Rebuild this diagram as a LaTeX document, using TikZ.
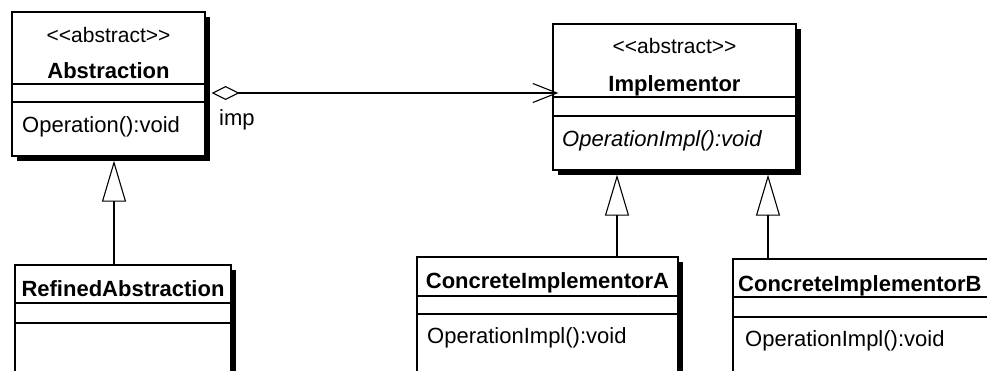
\documentclass[tikz,border=0pt]{standalone}
\usepackage{fontspec}
\setmainfont{Liberation Sans}
\usetikzlibrary{arrows.meta,shadows}

\begin{document}
\begin{tikzpicture}[x=1pt, y=-1pt,
    umlclass/.style={draw, line width=1.3pt, fill=white, inner sep=0pt,
      drop shadow={shadow xshift=4.5pt, shadow yshift=-4.5pt, fill=black, opacity=1}},
    stereo/.style={font=\fontsize{21}{24}\selectfont, inner sep=0pt, anchor=base},
    cname/.style={font=\fontsize{22}{26}\selectfont\bfseries, inner sep=0pt, anchor=base},
    member/.style={font=\fontsize{22}{26}\selectfont, inner sep=0pt, anchor=base west},
    divider/.style={line width=1.3pt},
    conn/.style={line width=1.1pt},
    inherit/.style={conn, -{Triangle[open, length=41pt, width=24pt]}}]
        \clip (0,0) rectangle (987,370);
        \fill[white] (0,0) rectangle (987,370);

        % Classes
        \node[umlclass, minimum width=193pt, minimum height=144pt] (abs) at (108.5,84) {};
        \node[umlclass, minimum width=243pt, minimum height=146pt] (impl) at (674.5,97) {};
        \node[umlclass, minimum width=216pt, minimum height=155pt] (refabs) at (123,342.5) {};
        \node[umlclass, minimum width=261pt, minimum height=163pt] (concA) at (547.5,338.5) {};
        \node[umlclass, minimum width=267pt, minimum height=161pt] (concB) at (866.5,339.5) {};

        % Compartments
        \draw[divider] (abs.west |- 0,84) -- (abs.east |- 0,84);
        \draw[divider] (abs.west |- 0,102) -- (abs.east |- 0,102);
        \draw[divider] (impl.west |- 0,97) -- (impl.east |- 0,97);
        \draw[divider] (impl.west |- 0,116) -- (impl.east |- 0,116);
        \draw[divider] (refabs.west |- 0,303) -- (refabs.east |- 0,303);
        \draw[divider] (refabs.west |- 0,323) -- (refabs.east |- 0,323);
        \draw[divider] (concA.west |- 0,296) -- (concA.east |- 0,296);
        \draw[divider] (concA.west |- 0,314) -- (concA.east |- 0,314);
        \draw[divider] (concB.west |- 0,297) -- (concB.east |- 0,297);
        \draw[divider] (concB.west |- 0,317) -- (concB.east |- 0,317);

        % Texts
        \node[stereo] (abs-st) at (abs.center |- 0,42) {<{}<abstract>{}>};
        \node[cname] (abs-name) at (abs.center |- 0,78) {Abstraction};
        \node[member] (abs-op) at (22,132) {Operation():void};
        \node[stereo] (impl-st) at (impl.center |- 0,53) {<{}<abstract>{}>};
        \node[cname] (impl-name) at (impl.center |- 0,91) {Implementor};
        \node[member, font=\fontsize{22}{26}\selectfont\itshape] (impl-op) at (562,146) {OperationImpl():void};
        \node[cname] (refabs-name) at (refabs.center |- 0,296) {RefinedAbstraction};
        \node[cname] (concA-name) at (concA.center |- 0,288) {ConcreteImplementorA};
        \node[member] (concA-op) at (427,343) {OperationImpl():void};
        \node[cname, anchor=base west] (concB-name) at (738,291) {ConcreteImplementorB};
        \node[member] (concB-op) at (745,346) {OperationImpl():void};

        % Relations
        \coordinate (absfoot) at ([yshift=-4pt]abs.south);
        \coordinate (implfoot) at ([yshift=-4pt]impl.south);
        \draw[conn, {Diamond[open, length=28pt, width=14pt]}-{Straight Barb[length=24pt, width=19pt]}]
            ([shift={(6,9)}]abs.east) -- ([shift={(6,9)}]abs.east -| impl.west)
            node[pos=0, member, xshift=7pt, yshift=-32pt] (imp) {imp};
        \draw[inherit] ([xshift=-9pt]refabs.north) -- ([xshift=-9pt]refabs.north |- absfoot);
        \draw[inherit] ([xshift=69.5pt]concA.north) -- ([xshift=69.5pt]concA.north |- implfoot);
        \draw[inherit] ([xshift=-98.5pt]concB.north) -- ([xshift=-98.5pt]concB.north |- implfoot);
    \end{tikzpicture}
\end{document}
